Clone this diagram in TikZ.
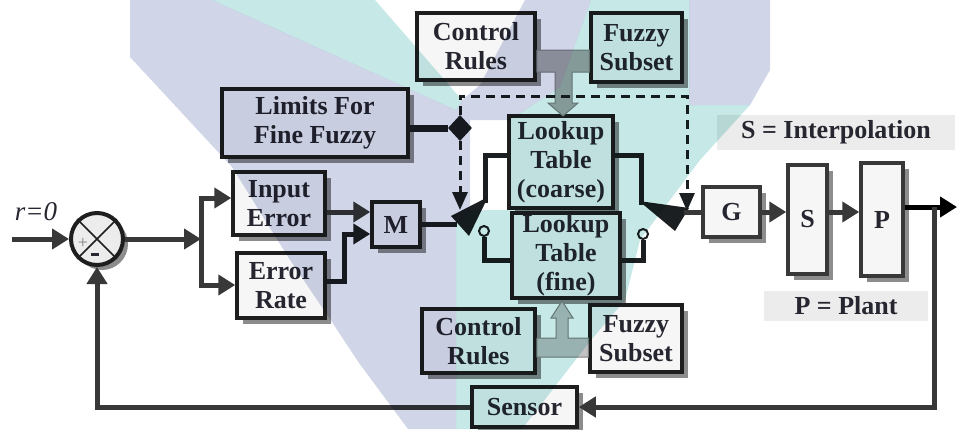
\documentclass[tikz,border=0pt]{standalone}
\usepackage{fontspec}
\setmainfont{Liberation Serif}
\usetikzlibrary{arrows.meta,shapes.geometric,shadows}
\definecolor{wirec}{HTML}{383838}
\definecolor{darkw}{HTML}{1C1F22}
\definecolor{boxc}{HTML}{1E1E1E}
\definecolor{shade}{HTML}{8C8C8C}
\definecolor{boxfill}{HTML}{F6F6F6}
\definecolor{txt}{HTML}{262630}
\definecolor{wmlav}{HTML}{D0D5E8}
\definecolor{wmteal}{HTML}{C6E9E7}
\definecolor{labbg}{HTML}{ECECEC}
\definecolor{grayarr}{HTML}{A9A9A9}
\begin{document}
\begin{tikzpicture}[x=1pt,y=-1pt,
  blk/.style={draw=boxc,line width=3.5pt,fill=boxfill,inner sep=0pt,align=center,
    text=txt,font=\fontsize{26}{29}\selectfont\bfseries,
    drop shadow={shadow xshift=6pt,shadow yshift=-6pt,fill=shade,opacity=1}},
  wire/.style={draw=wirec,line width=5pt,line join=miter},
  dwire/.style={draw=darkw,line width=5pt,line join=miter},
  arr/.style={-{Triangle[length=17pt,width=20pt]}},
  dsh/.style={draw=darkw,line width=3pt,dash pattern=on 9pt off 6pt},
  darr/.style={-{Triangle[length=18pt,width=15pt]}},
  blade/.style={fill=darkw},
  contact/.style={circle,draw=darkw,fill=white,line width=2pt,minimum size=10pt,inner sep=0pt},
  lab/.style={fill=labbg,inner sep=0pt,text=txt,font=\fontsize{26}{29}\selectfont\bfseries}]
\useasboundingbox (0,0) rectangle (957,429);
% helper heights
\path (0,212) coordinate (h212) (0,234) coordinate (h234) (0,260) coordinate (h260)
  (0,50) coordinate (h50) (0,72) coordinate (h72) (0,338) coordinate (h338) (0,357) coordinate (h357);

% label backgrounds
\node[lab,minimum width=238pt,minimum height=35pt] (slab) at (836,132.5) {S = Interpolation};
\node[lab,minimum width=164pt,minimum height=30pt] (plab) at (846,306) {P = Plant};

% summing junction
\node[circle,draw=boxc,line width=4pt,fill=labbg,minimum size=52pt,inner sep=0pt,
  drop shadow={shadow xshift=5pt,shadow yshift=-5pt,fill=shade,opacity=1}] (sum) at (97,239) {};
\draw[boxc,line width=1.5pt] (sum.north west) -- (sum.south east);
\draw[boxc,line width=1.5pt] (sum.north east) -- (sum.south west);
\node[text=gray,font=\fontsize{18}{18}\selectfont] (plus) at (83,243) {+};
\node[text=txt,inner sep=0pt] (minus) at (95,254) {\rule{8pt}{3pt}};
\node[text=txt,font=\fontsize{27}{27}\selectfont\itshape] (rlab) at (36,212) {r=0};

% blocks
\node[blk,minimum width=186pt,minimum height=68pt] (lim) at (315,123) {Limits For\\Fine Fuzzy};
\node[blk,minimum width=92pt,minimum height=63pt] (ie) at (279,203.5) {Input\\Error};
\node[blk,minimum width=88pt,minimum height=65pt] (er) at (281,285.5) {Error\\Rate};
\node[blk,minimum width=48pt,minimum height=45pt] (m) at (396,224.5) {M};
\node[blk,minimum width=118pt,minimum height=67pt] (cr1) at (476,46.5) {Control\\Rules};
\node[blk,minimum width=91pt,minimum height=69pt] (fs1) at (636.5,47.5) {Fuzzy\\Subset};
\node[blk,minimum width=104pt,minimum height=92pt] (co) at (561,162) {Lookup\\Table\\(coarse)};
\node[blk,minimum width=108pt,minimum height=85pt] (fi) at (566,255.5) {Lookup\\Table\\(fine)};
\node[blk,minimum width=113pt,minimum height=64pt] (cr2) at (478.5,341) {Control\\Rules};
\node[blk,minimum width=92pt,minimum height=67pt] (fs2) at (636,338.5) {Fuzzy\\Subset};
\node[blk,minimum width=105pt,minimum height=40pt] (sen) at (524.5,407) {Sensor};
\node[blk,draw=wirec,minimum width=57pt,minimum height=50pt] (g) at (731.5,212) {G};
\node[blk,draw=wirec,minimum width=39pt,minimum height=109pt] (s) at (807.5,219.5) {S};
\node[blk,draw=wirec,minimum width=42pt,minimum height=113pt] (p) at (882,219.5) {P};

% gray rule connectors
\filldraw[fill=grayarr,draw=gray,line width=1pt]
  (cr1.east |- h50) -- (fs1.west |- h50) -- (fs1.west |- h72) -- (572,72) -- (572,103)
  -- (578,103) -- (563,116) -- (548,103) -- (555,103) -- (555,72) -- (cr1.east |- h72) -- cycle;
\filldraw[fill=grayarr!70,draw=gray,line width=1pt]
  (cr2.east |- h357) -- (fs2.west |- h357) -- (fs2.west |- h338) -- (568,338) -- (568,318)
  -- (573,318) -- (562,301) -- (551,318) -- (556,318) -- (556,338) -- (cr2.east |- h338) -- cycle;

% input and branches
\coordinate (in) at (12,239);
\draw[wire,arr] (in) -- (sum.west);
\coordinate (bt) at (201,198);
\coordinate (bb) at (201,285);
\draw[wire,arr] (sum.east) -- (bt |- sum.east);
\draw[wire,arr] (bb) -- (bt) -- (bt -| ie.west);
\draw[wire,arr] (bt) -- (bb) -- (bb -| er.west);

% into M
\draw[wire,arr] (ie.east |- h212) -- (m.west |- h212);
\coordinate (erk) at (344,281);
\draw[dwire,arr] (er.east |- erk) -- (erk) -- (erk |- h234) -- (m.west |- h234);

% M to left switch
\coordinate (pivL) at (457,224);
\draw[dwire] (m.east |- pivL) -- (pivL);
\coordinate (cL) at (485,155);
\coordinate (cLb) at (485,203);
\draw[dwire] (co.west |- cL) -- (cL) -- (cLb);
\fill[blade] (451,216) -- (469,236) -- (488,197) -- cycle;

% right switch
\coordinate (cR) at (641,155);
\coordinate (cRb) at (641,205);
\draw[dwire] (co.east |- cR) -- (cR) -- (cRb);
\fill[blade] (639,201) -- (689,208) -- (675,231) -- cycle;
\coordinate (pivR) at (684,212);
\draw[wire] (pivR) -- (g.west);

% fine contacts
\node[contact] (k1) at (484,231) {};
\node[contact] (k2) at (643,234) {};
\draw[dwire] (k1.south) -- (k1 |- h260) -- (fi.west |- h260);
\draw[dwire] (k2.south) -- (k2 |- h260) -- (fi.east |- h260);

% limits and dashed control
\node[diamond,fill=darkw,minimum width=24pt,minimum height=26pt,inner sep=0pt] (dia) at (460,128) {};
\draw[draw=darkw,line width=7pt] (lim.east |- dia) -- (dia.west);
\coordinate (dT) at (460,96);
\coordinate (dR) at (687,96);
\coordinate (tipL) at (460,210);
\coordinate (tipR) at (687,211);
\draw[dsh,darr] (dia.south) -- (tipL);
\draw[dsh,darr] (dia.north) -- (dT) -- (dR) -- (tipR);

% forward path
\draw[wire,arr] (g.east) -- (s.west |- g.east);
\draw[wire,arr] (s.east |- g.east) -- (p.west |- g.east);
\coordinate (out) at (957,207);
\draw[wire,draw=black,arr] (p.east |- out) -- (out);

% feedback
\coordinate (fb) at (934,207);
\coordinate (fbb) at (934,407);
\draw[wire,arr] (fb) -- (fbb) -- (sen.east);
\coordinate (fl) at (97,407);
\draw[wire,arr] (sen.west) -- (fl) -- (sum.south);

% watermark
\begin{scope}[blend mode=multiply]
\fill[wmlav] (130,0) -- (212,0) -- (456,110) -- (462,100) -- (480,85) -- (525,0) -- (591,0)
  -- (560,87) -- (510,120) -- (470,120) -- (470,210) -- (456,225) -- (456,429) -- (408,429)
  -- (359,363) -- (326,313) -- (290,260) -- (232,167) -- (130,57) -- cycle;
\fill[wmlav] (689,0) -- (770,0) -- (770,70) -- (750,105) -- (689,105) -- cycle;
\fill[wmteal] (212,0) -- (375,0) -- (462,100) -- (456,110) -- cycle;
\fill[wmteal] (456,429) -- (522,429) -- (591,340) -- (625,300) -- (640,240) -- (700,160)
  -- (750,105) -- (689,105) -- (689,0) -- (591,0) -- (560,87) -- (510,120) -- (510,210)
  -- (470,210) -- (456,225) -- cycle;
\end{scope}
\end{tikzpicture}
\end{document}
